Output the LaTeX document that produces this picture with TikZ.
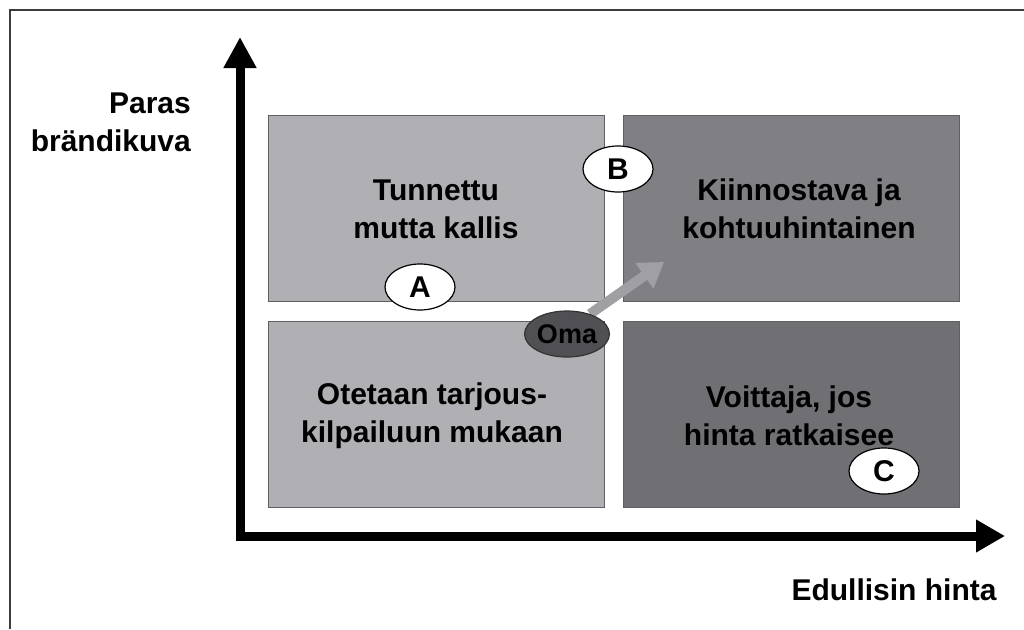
\documentclass[tikz,border=0pt]{standalone}
\usepackage{fontspec}
\setmainfont{Liberation Sans}
\usetikzlibrary{arrows.meta,shapes.geometric}

\definecolor{lightfield}{RGB}{176,176,180}
\definecolor{darkfield}{RGB}{128,128,132}
\definecolor{darkerfield}{RGB}{112,112,116}
\definecolor{fieldedge}{RGB}{95,95,100}
\definecolor{omafill}{RGB}{80,80,84}
\definecolor{movearrow}{RGB}{160,160,164}
\definecolor{framecol}{RGB}{60,60,64}

\tikzset{
  every node/.style={font=\fontsize{30}{38}\selectfont\bfseries, text=black},
  field/.style={draw=fieldedge, line width=1pt, minimum width=336pt, minimum height=186pt,
                inner sep=0pt, anchor=north west},
  fieldtext/.style={align=center, inner sep=0pt},
  marker/.style={ellipse, draw=black, line width=1.2pt, fill=white,
                 minimum width=70pt, minimum height=46pt, inner sep=0pt},
  axis/.style={line width=9pt, draw=black,
               {Triangle[width=31pt,length=31pt]}-{Triangle[width=31pt,length=29pt]}},
  move/.style={draw=movearrow, line width=10pt,
               -{Triangle[width=30pt,length=24pt]}},
}

\begin{document}
\begin{tikzpicture}[x=1pt,y=-1pt]
  \useasboundingbox (0,0) rectangle (1024,629);

  % outer frame (open to the right and bottom)
  \coordinate (frameBL) at (10,629);
  \coordinate (frameTL) at (10,10);
  \coordinate (frameTR) at (1024,10);
  \draw[framecol, line width=2pt] (frameBL) -- (frameTL) -- (frameTR);

  % four fields
  \node[field, fill=lightfield]  (tl) at (268,115) {};
  \node[field, fill=darkfield]   (tr) at (623,115) {};
  \node[field, fill=lightfield]  (bl) at (268,321) {};
  \node[field, fill=darkerfield] (br) at (623,321) {};

  \node[fieldtext] (tltext) at (436,209) {Tunnettu\\mutta kallis};
  \node[fieldtext] (trtext) at (799,209) {Kiinnostava ja\\kohtuuhintainen};
  \node[fieldtext] (bltext) at (432,416) {Otetaan tarjous-\\kilpailuun mukaan};
  \node[fieldtext] (brtext) at (789,416) {Voittaja, jos\\hinta ratkaisee};

  % axes
  \coordinate (ytip) at (240,37);
  \coordinate (origin) at (240,536);
  \coordinate (xtip) at (1005,536);
  \draw[axis] (ytip) -- (origin) -- (xtip);

  \node[align=right, anchor=east, inner sep=0pt] (ylabel) at (191,122) {Paras\\brändikuva};
  \node[inner sep=0pt] (xlabel) at (894,590) {Edullisin hinta};

  % movement of the own position
  \coordinate (movefrom) at (590,314);
  \coordinate (moveto) at (664,262);
  \draw[move] (movefrom) -- (moveto);

  % positions
  \node[marker] (A) at (420,287) {A};
  \node[marker] (B) at (618,169) {B};
  \node[marker] (C) at (884,471) {C};
  \node[marker, fill=omafill, draw=black!80] (oma) at (567,334)
       {\fontsize{27}{30}\selectfont Oma};
\end{tikzpicture}
\end{document}
